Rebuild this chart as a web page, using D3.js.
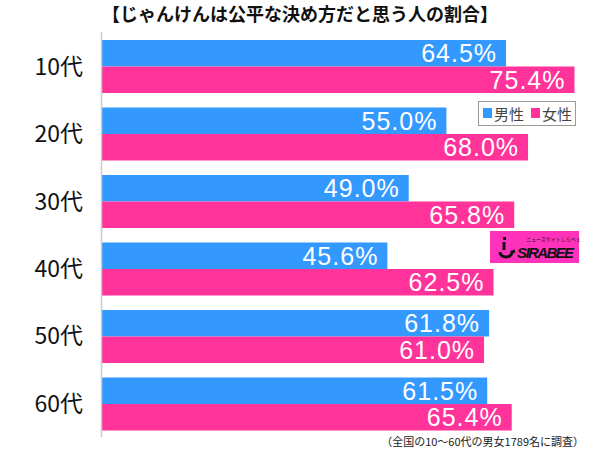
<!DOCTYPE html>
<html><head><meta charset="utf-8">
<script src="https://cdn.jsdelivr.net/npm/d3@7"></script>
<style>body{margin:0;background:#fff;}svg{display:block;font-family:"Noto Sans CJK JP","Noto Sans",sans-serif;}</style>
</head><body>
<svg id="c" width="600" height="449"></svg>
<script>
const categories = ["10代","20代","30代","40代","50代","60代"];
const male = [64.5,55.0,49.0,45.6,61.8,61.5];
const female = [75.4,68.0,65.8,62.5,61.0,65.4];
const seriesNames = ["男性","女性"];
const colors = ["#3399ff","#ff3399"];
const title = "【じゃんけんは公平な決め方だと思う人の割合】";
const note = "（全国の10～60代の男女1789名に調査）";

const svg = d3.select("#c");
const x = d3.scaleLinear().domain([0,100]).range([101,729]);
const y = d3.scaleBand().domain(categories).range([40,430.5]).paddingInner(0.2148).paddingOuter(0);
const sub = d3.scaleBand().domain([0,1]).range([0,y.bandwidth()]);

svg.append("text").attr("x",300).attr("y",21).attr("text-anchor","middle")
  .attr("font-size",18).attr("font-weight","bold").attr("fill","#111").text(title);

categories.forEach((c,i)=>{
  const vals=[male[i],female[i]];
  vals.forEach((v,j)=>{
    const yy=y(c)+sub(j);
    svg.append("rect").attr("x",x(0)).attr("y",yy).attr("width",x(v)-x(0)).attr("height",sub.bandwidth()).attr("fill",colors[j]);
    svg.append("text").attr("x",x(v)-9).attr("y",yy+sub.bandwidth()/2+9).attr("text-anchor","end")
      .attr("font-size",25).attr("letter-spacing",1).attr("fill","#fff").attr("font-family","'Liberation Sans',Arial,sans-serif").text(v.toFixed(1)+"%");
  });
  svg.append("text").attr("x",83).attr("y",y(c)+y.bandwidth()/2+8).attr("text-anchor","end")
    .attr("font-size",23).attr("fill","#111").text(c);
});

svg.append("line").attr("x1",x(0)+0.5).attr("x2",x(0)+0.5).attr("y1",32).attr("y2",437).attr("stroke","#ccc").attr("stroke-width",1.5);

// legend
const lg=svg.append("g");
lg.append("rect").attr("x",478.5).attr("y",101.5).attr("width",97).attr("height",24).attr("fill","#fff").attr("stroke","#999");
seriesNames.forEach((n,j)=>{
  const lx=483+j*48;
  lg.append("rect").attr("x",lx).attr("y",108).attr("width",9).attr("height",10).attr("fill",colors[j]);
  lg.append("text").attr("x",lx+11).attr("y",119.5).attr("font-size",15).attr("fill","#444").text(n);
});

// logo
const lo=svg.append("g");
lo.append("rect").attr("x",490).attr("y",231).attr("width",89).attr("height",32).attr("fill","#ff33bb");
lo.append("rect").attr("x",503).attr("y",237).attr("width",3).attr("height",3).attr("fill","#111");
lo.append("path").attr("d","M504,242 L504,250 M500,252 A6,5 0 1,0 512,252 L515,251").attr("stroke","#111").attr("stroke-width",3).attr("fill","none");
lo.append("text").attr("x",517).attr("y",258).attr("font-size",15).attr("font-weight","bold").attr("font-style","italic").attr("fill","#111").attr("font-family","'Liberation Sans',sans-serif").attr("textLength",57).text("SIRABEE");
lo.append("text").attr("x",526).attr("y",241).attr("font-size",5).attr("fill","#111").text("ニュースサイトしらべぇ");

svg.append("text").attr("x",584).attr("y",446).attr("text-anchor","end").attr("font-size",11).attr("fill","#222").text(note);
</script>
</body></html>
